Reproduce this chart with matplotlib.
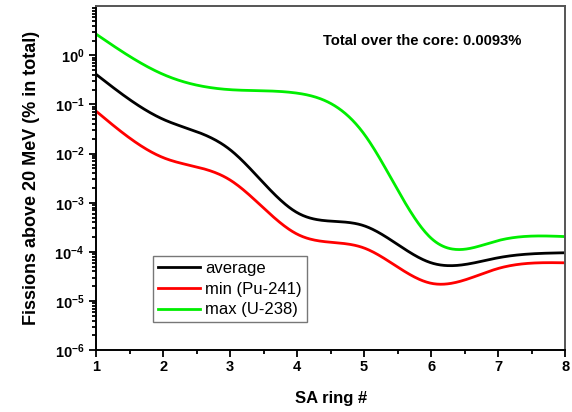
import numpy as np
import matplotlib
matplotlib.use('Agg')
from matplotlib import pyplot as plt
from matplotlib.ticker import LogLocator, MultipleLocator, NullFormatter

plt.rcParams['font.family'] = ['Liberation Sans', 'DejaVu Sans']

# SA ring number and fraction of fissions above 20 MeV (% in total)
rings = [1, 2, 3, 4, 5, 6, 7, 8]
average = [0.41, 0.050, 0.0120, 6.3e-4, 3.4e-4, 6.0e-5, 7.6e-5, 9.6e-5]
min_pu241 = [0.073, 0.0083, 0.0029, 2.3e-4, 1.2e-4, 2.3e-5, 4.6e-5, 6.0e-5]
max_u238 = [2.7, 0.41, 0.20, 0.17, 0.025, 1.9e-4, 1.7e-4, 2.05e-4]

series = [('average', average, 'black'),
          ('min (Pu-241)', min_pu241, '#ff0000'),
          ('max (U-238)', max_u238, '#00ee00')]


def spline(x, y, xs):
    # natural cubic spline, like the Origin "spline" connect
    x = np.asarray(x, float)
    y = np.asarray(y, float)
    n = len(x)
    h = np.diff(x)
    A = np.zeros((n, n))
    b = np.zeros(n)
    A[0, 0] = A[-1, -1] = 1
    for i in range(1, n - 1):
        A[i, i - 1] = h[i - 1]
        A[i, i] = 2 * (h[i - 1] + h[i])
        A[i, i + 1] = h[i]
        b[i] = 6 * ((y[i + 1] - y[i]) / h[i] - (y[i] - y[i - 1]) / h[i - 1])
    m = np.linalg.solve(A, b)
    idx = np.clip(np.searchsorted(x, xs) - 1, 0, n - 2)
    t = xs - x[idx]
    hi = h[idx]
    a = y[idx]
    c1 = (y[idx + 1] - y[idx]) / hi - hi * (2 * m[idx] + m[idx + 1]) / 6
    return a + c1 * t + m[idx] / 2 * t ** 2 + (m[idx + 1] - m[idx]) / (6 * hi) * t ** 3


fig = plt.figure(figsize=(5.72, 4.12), dpi=100)
ax = fig.add_axes([0.168, 0.150, 0.820, 0.835])

xs = np.linspace(rings[0], rings[-1], 400)
for label, vals, color in series:
    ys = 10 ** spline(rings, np.log10(vals), xs)
    ax.plot(xs, ys, color=color, lw=2, label=label)

ax.set_yscale('log')
ax.set_xlim(1, 8)
ax.set_ylim(1e-6, 1e1)
ax.xaxis.set_major_locator(MultipleLocator(1))
ax.xaxis.set_minor_locator(MultipleLocator(0.5))
ax.yaxis.set_minor_locator(LogLocator(base=10, subs=np.arange(2, 10), numticks=20))
ax.yaxis.set_minor_formatter(NullFormatter())
ax.set_yticks([1e-6, 1e-5, 1e-4, 1e-3, 1e-2, 1e-1, 1e0])

ax.tick_params(which='both', direction='out', top=False, right=False,
               width=1.3, labelsize=10.5)
ax.tick_params(which='major', length=5)
ax.tick_params(which='minor', length=3)
ax.tick_params(axis='x', pad=2)
for lab in ax.get_xticklabels() + ax.get_yticklabels():
    lab.set_fontweight('bold')
for side in ['left', 'bottom']:
    ax.spines[side].set_linewidth(1.4)
for side in ['top', 'right']:
    ax.spines[side].set_color('#555555')
    ax.spines[side].set_linewidth(1.4)

ax.set_xlabel('SA ring #', fontsize=12, fontweight='bold', labelpad=12)
ax.set_ylabel('Fissions above 20 MeV (% in total)', fontsize=13,
              fontweight='bold', labelpad=10)

ax.text(0.906, 0.898, 'Total over the core: 0.0093%', transform=ax.transAxes,
        ha='right', va='center', fontsize=10.6, fontweight='bold')

leg = ax.legend(loc='lower left', bbox_to_anchor=(0.122, 0.081),
                fontsize=12, frameon=True, fancybox=False,
                handlelength=2.5, borderpad=0.3, labelspacing=0.35,
                handletextpad=0.3, borderaxespad=0)
leg.get_frame().set_edgecolor('#555555')
leg.get_frame().set_linewidth(1.0)

fig.savefig('out.png', dpi=100)
